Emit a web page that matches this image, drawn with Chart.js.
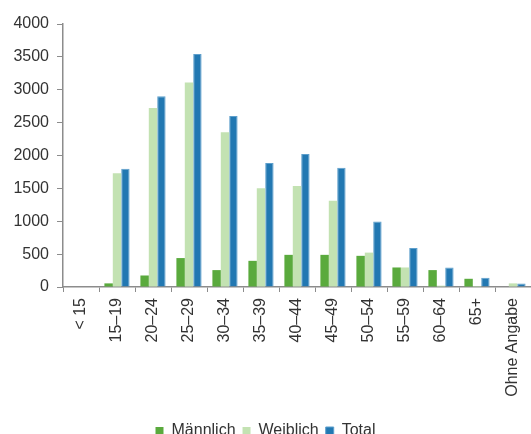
<!DOCTYPE html>
<html>
<head>
<meta charset="utf-8">
<script src="https://cdn.jsdelivr.net/npm/chart.js@4/dist/chart.umd.min.js"></script>
<style>
  html, body { margin: 0; padding: 0; background: #fff; }
  #wrap { width: 531px; height: 434px; }
</style>
</head>
<body>
<div id="wrap"><canvas id="chart" width="531" height="434"></canvas></div>
<script>
// age groups
const categories = ['< 15', '15–19', '20–24', '25–29', '30–34', '35–39', '40–44',
  '45–49', '50–54', '55–59', '60–64', '65+', 'Ohne Angabe'];

// values
const maennlich = [0, 55, 175, 440, 257, 398, 489, 489, 474, 297, 257, 125, 0];
const weiblich = [0, 1729, 2723, 3110, 2354, 1502, 1537, 1310, 523, 297, 20, 15, 55];
const total = [0, 1800, 2900, 3545, 2602, 1885, 2021, 1815, 998, 595, 297, 140, 55];

const yTicks = [0, 500, 1000, 1500, 2000, 2500, 3000, 3500, 4000];

const axisColor = '#8c8c8c';
const textColor = '#333333';
const family = '"Liberation Sans", Arial, sans-serif';

new Chart(document.getElementById('chart').getContext('2d'), {
  type: 'bar',
  data: {
    labels: categories,
    datasets: [
      { label: 'Männlich', data: maennlich, backgroundColor: '#5aaa3d' },
      { label: 'Weiblich', data: weiblich, backgroundColor: '#c3e2b2' },
      { label: 'Total', data: total, backgroundColor: '#2278b2', borderColor: '#5d9fcc', borderWidth: 1 }
    ]
  },
  options: {
    responsive: false,
    animation: false,
    // negative bottom padding lets the legend sit partly below the edge, as in the source
    layout: { padding: { left: 0, right: 0, top: 24, bottom: -15 } },
    datasets: {
      bar: { categoryPercentage: 0.7, barPercentage: 1.0, borderSkipped: 'bottom' }
    },
    plugins: {
      tooltip: { enabled: false },
      legend: {
        position: 'bottom',
        labels: {
          color: textColor,
          font: { family: family, size: 16 },
          boxWidth: 8,
          boxHeight: 8,
          padding: 7
        }
      }
    },
    scales: {
      x: {
        afterFit: (scale) => {
          scale.height = 129;
          scale.paddingLeft = 0;
          scale.paddingRight = 0;
        },
        grid: { drawOnChartArea: false, drawTicks: true, tickLength: 5, color: axisColor, offset: true },
        border: { color: axisColor, width: 1.5 },
        ticks: { color: textColor, font: { family: family, size: 16 }, minRotation: 90, maxRotation: 90, padding: 6 }
      },
      y: {
        min: 0,
        max: 4000,
        afterFit: (scale) => { scale.width = 63; },
        afterBuildTicks: (scale) => { scale.ticks = yTicks.map(v => ({ value: v })); },
        grid: { drawOnChartArea: false, drawTicks: true, tickLength: 6, color: axisColor },
        border: { color: axisColor, width: 1.5 },
        ticks: { color: textColor, font: { family: family, size: 16 }, padding: 8, callback: (v) => String(v) }
      }
    }
  }
});
</script>
</body>
</html>
